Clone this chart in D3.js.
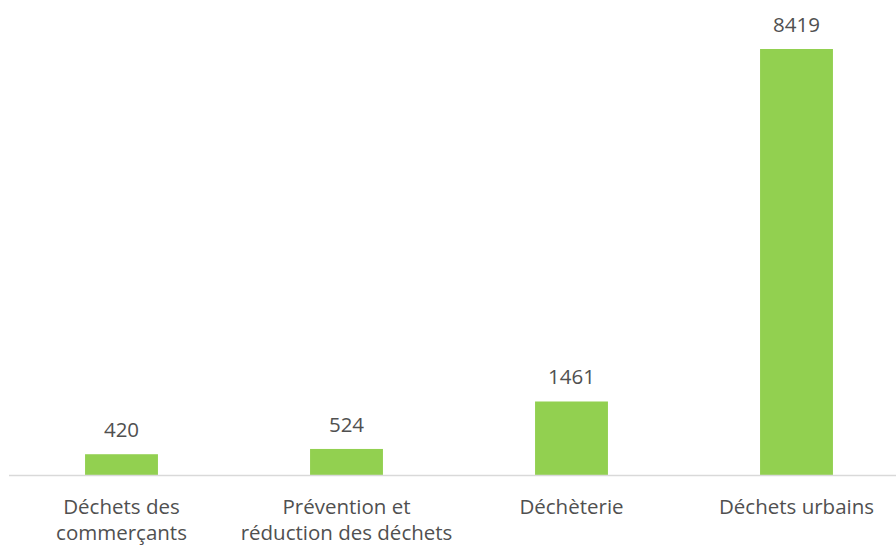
<!DOCTYPE html>
<html>
<head>
<meta charset="utf-8">
<script src="https://cdn.jsdelivr.net/npm/d3@7"></script>
<style>
  body { margin: 0; background: #fff; }
  text { font-family: "Open Sans", sans-serif; fill: #505050; }
</style>
</head>
<body>
<div id="chart"></div>
<script>
let svgWidth = 896;
let svgHeight = 546;

// chart data
let categories = [
  ["Déchets des", "commerçants"],
  ["Prévention et", "réduction des déchets"],
  ["Déchèterie"],
  ["Déchets urbains"]
];
let values = [420, 524, 1461, 8419];

let baseY = 475.5;
let topY = 49;

let svg = d3.select("#chart")
  .append("svg")
  .attr("width", svgWidth)
  .attr("height", svgHeight);

let x = d3.scaleBand()
  .domain(d3.range(values.length))
  .range([9, 909])
  .paddingInner(0.676)
  .paddingOuter(0.338);

let y = d3.scaleLinear()
  .domain([0, d3.max(values)])
  .range([baseY, topY]);

// bars
svg.selectAll("rect.bar")
  .data(values)
  .enter()
  .append("rect")
  .attr("class", "bar")
  .attr("x", (d, i) => x(i))
  .attr("y", d => y(d))
  .attr("width", x.bandwidth())
  .attr("height", d => baseY - y(d))
  .attr("fill", "#92D050");

// baseline
svg.append("line")
  .attr("x1", 9)
  .attr("x2", svgWidth)
  .attr("y1", baseY)
  .attr("y2", baseY)
  .attr("stroke", "#D9D9D9")
  .attr("stroke-width", 1.5);

// value labels
svg.selectAll("text.val")
  .data(values)
  .enter()
  .append("text")
  .attr("class", "val")
  .attr("x", (d, i) => x(i) + x.bandwidth() / 2)
  .attr("y", d => y(d) - 17)
  .attr("text-anchor", "middle")
  .attr("font-size", "20.5px")
  .text(d => d);

// category labels
let cats = svg.selectAll("text.cat")
  .data(categories)
  .enter()
  .append("text")
  .attr("class", "cat")
  .attr("text-anchor", "middle")
  .attr("font-size", "20.5px")
  .attr("y", 514);

cats.selectAll("tspan")
  .data((d, i) => d.map(t => ({ t: t, i: i })))
  .enter()
  .append("tspan")
  .attr("x", d => x(d.i) + x.bandwidth() / 2)
  .attr("dy", (d, j) => j === 0 ? 0 : 26)
  .text(d => d.t);
</script>
</body>
</html>
